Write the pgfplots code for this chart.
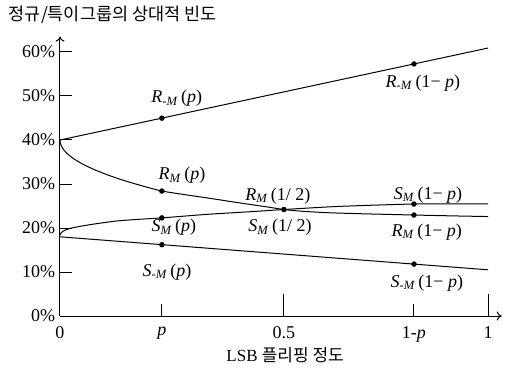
\documentclass[border=0pt]{standalone}
\usepackage{fontspec}
\setmainfont{Liberation Serif}
\newfontfamily\kr{Noto Sans CJK KR}
\usepackage{pgfplots}
\pgfplotsset{compat=1.18}
\usetikzlibrary{arrows.meta}

\newcommand{\fz}{\fontsize{18}{21}\selectfont}
% group label: letter, subscript, argument
\newcommand{\lbl}[3]{\textit{#1}\textsubscript{\textit{#2}}\,(#3)}

\pgfplotstableread{
x     y
0     40
1     60.9
}\rneg

\pgfplotstableread{
x      y
0      40
0.0005 39.47
0.002  38.94
0.005  38.32
0.01   37.62
0.02   36.63
0.035  35.55
0.055  34.42
0.08   33.27
0.11   32.11
0.14   31.09
0.17   30.19
0.2    29.36
0.238  28.4
0.29   27.6
0.343  26.85
0.42   25.7
0.48   24.85
0.523  24.2
0.56   23.85
0.62   23.5
0.7    23.25
0.827  22.95
0.92   22.75
1.0    22.6
}\rpos

\pgfplotstableread{
x      y
0      18.4
0.002  18.8
0.006  19.2
0.0117 19.5
0.025  19.95
0.0537 20.5
0.09   21.05
0.133  21.6
0.18   21.95
0.238  22.3
0.343  23.1
0.444  23.7
0.523  24.2
0.65   24.9
0.827  25.45
1.0    25.5
}\spos

\pgfplotstableread{
x     y
0     18.0
1     10.5
}\sneg

\begin{document}
\begin{tikzpicture}
\begin{axis}[
  anchor=origin, at={(0pt,0pt)},
  scale only axis,
  x=428pt, y=4.4pt,
  xmin=0, xmax=1.032, ymin=0, ymax=63.5,
  clip=false,
  axis lines=left,
  axis line style={line width=1pt, -{To[length=5pt,width=9pt]}},
  every tick/.style={black, line width=1pt},
  tick align=inside,
  major tick length=12pt,
  ytick={0,10,...,60},
  yticklabel={\pgfmathprintnumber{\tick}\%},
  xtick={0,0.238,0.827},
  xticklabels={0,\textit{p},1-\textit{p}},
  extra x ticks={0.523,1},
  extra x tick labels={0.5,1},
  extra x tick style={major tick length=22pt},
  /pgf/number format/assume math mode=true,
  tick label style={font=\fz},
  xticklabel style={yshift=-9.5pt, inner sep=1pt},
  yticklabel style={xshift=-1pt},
  line width=1pt,
]
\addplot[black, line width=1pt] table {\rneg};
\addplot[black, line width=1pt, smooth, tension=0.4] table {\rpos};
\addplot[black, line width=1pt, smooth, tension=0.4] table {\spos};
\addplot[black, line width=1pt] table {\sneg};

% marked points at p, 1/2 and 1-p
\addplot[only marks, mark=*, mark size=2.2pt, black] coordinates {
  (0.238,44.97) (0.827,57.28)
  (0.238,28.4) (0.523,24.2) (0.827,22.95)
  (0.238,22.3) (0.827,25.45)
  (0.238,16.2) (0.827,11.8)
};

\begin{scope}[every node/.style={font=\fz}]
\node at (axis cs:0.273,49.5) {\lbl{R}{-M}{\textit{p}}};
\node at (axis cs:0.848,53.0) {\lbl{R}{-M}{1− \textit{p}}};
\node at (axis cs:0.285,32.0) {\lbl{R}{M}{\textit{p}}};
\node at (axis cs:0.509,27.3) {\lbl{R}{M}{1/ 2}};
\node at (axis cs:0.266,20.2) {\lbl{S}{M}{\textit{p}}};
\node at (axis cs:0.514,20.2) {\lbl{S}{M}{1/ 2}};
\node at (axis cs:0.250,10.0) {\lbl{S}{-M}{\textit{p}}};
\node at (axis cs:0.860,27.5) {\lbl{S}{M}{1− \textit{p}}};
\node at (axis cs:0.857,19.1) {\lbl{R}{M}{1− \textit{p}}};
\node at (axis cs:0.857,7.5)  {\lbl{S}{-M}{1− \textit{p}}};
\end{scope}
\node[font=\fontsize{17}{20}\selectfont, inner sep=1pt] at (axis cs:0.526,-8.9) {LSB {\kr 플리핑 정도}};
\node[anchor=west, font=\kr\fontsize{17.5}{20}\selectfont] at (axis cs:-0.1285,68.4) {정규/특이그룹의 상대적 빈도};
\end{axis}
\pgfresetboundingbox
\path (-60pt,-54pt) rectangle (448pt,316pt);
\end{tikzpicture}
\end{document}
